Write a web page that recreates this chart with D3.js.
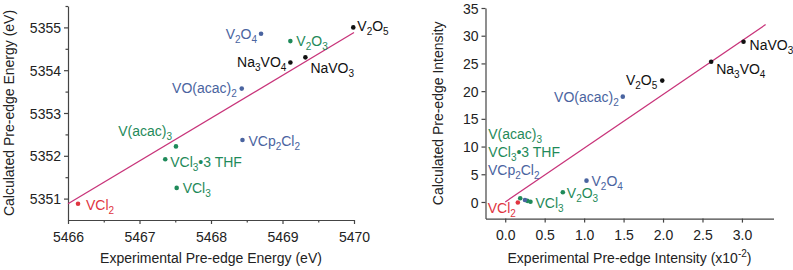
<!DOCTYPE html>
<html><head><meta charset="utf-8">
<script src="https://cdn.jsdelivr.net/npm/d3@7"></script>
<style>
html,body{margin:0;padding:0;background:#fff;}
svg{display:block;font-family:"Liberation Sans",Arial,sans-serif;}
</style></head>
<body>
<svg id="c" width="793" height="270"></svg>
<script>
// ---------- DATA ----------
// Left panel: pre-edge energy (eV)
const energyNames = ["VCl_2","V(acac)_3","VCl_3•3 THF","VCl_3","VCp_2Cl_2","VO(acac)_2","V_2O_4","V_2O_3","Na_3VO_4","NaVO_3","V_2O_5"];
const energyGroup = ["red","green","green","green","blue","blue","blue","green","black","black","black"];
const energyExp  = [5466.14,5467.51,5467.36,5467.52,5468.44,5468.43,5468.70,5469.11,5469.11,5469.32,5469.99];
const energyCalc = [5350.88,5352.22,5351.92,5351.25,5352.37,5353.57,5354.85,5354.68,5354.18,5354.30,5355.00];
const energyFit = [1.0, -115.12];          // slope, intercept
const energyFitRange = [5466, 5470];
const energyXTicks = [5466,5467,5468,5469,5470];
const energyYTicks = [5351,5352,5353,5354,5355];

// Right panel: pre-edge intensity
const intNames = ["VCl_2","V(acac)_3","VCl_3•3 THF","VCp_2Cl_2","VCl_3","V_2O_3","V_2O_4","VO(acac)_2","V_2O_5","Na_3VO_4","NaVO_3"];
const intGroup = ["red","green","green","blue","green","green","blue","blue","black","black","black"];
const intExp  = [0.16,0.19,0.28,0.25,0.32,0.73,1.03,1.49,1.99,2.61,3.02];
const intCalc = [-0.1,0.67,0.2,0.36,0.05,1.75,3.85,19.0,21.9,25.3,28.9];
const intFit = [9.7, 0];
const intFitRange = [0, 3.3];
const intXTicks = [0,0.5,1.0,1.5,2.0,2.5,3.0];
const intYTicks = [0,5,10,15,20,25,30,35];

// ---------- LAYOUT / STYLE ----------
const colors = {red:"#e0353f", green:"#1f8a5a", blue:"#4a64a0", black:"#111"};
const lineColor = "#c8347a";
const axisColor = "#444";
// label offsets [dx, dy, anchor]
const energyLabelPos = [[8,6,"start"],[-4,-10,"end"],[5,8,"start"],[6,5,"start"],[6,6,"start"],[-5,4,"end"],[-4,5,"end"],[6,5,"start"],[-4,4.5,"end"],[5,16,"start"],[4,4,"start"]];
const intLabelPos = [[-2,10.5,"end"],[-32,-59,"start"],[-39,-44,"start"],[-37,-25,"start"],[5,6,"start"],[4,6,"start"],[5,5,"start"],[-4,5,"end"],[-5,4,"end"],[5,12,"start"],[6,8,"start"]];

const svg = d3.select("#c");

function richText(sel, str){
  const parts = str.split(/(_\d+|\^-?\d+)/).filter(s=>s.length);
  let shift = 0;
  parts.forEach(p=>{
    let t, target=0, size=null;
    if(p[0]==="_"){ t=p.slice(1); target=4; size="10px"; }
    else if(p[0]==="^"){ t=p.slice(1); target=-6; size="10px"; }
    else { t=p; target=0; }
    const ts = sel.append("tspan").text(t).attr("dy", target-shift);
    if(size) ts.attr("font-size", size);
    shift = target;
  });
}

function panel(cfg){
  const g = svg.append("g");
  const x = d3.scaleLinear().domain(cfg.xDomain).range(cfg.xRange);
  const y = d3.scaleLinear().domain(cfg.yDomain).range(cfg.yRange);

  // axes
  const xAxis = d3.axisBottom(x).tickValues(cfg.xTicks).tickFormat(cfg.xFmt).tickSize(4).tickSizeOuter(0);
  const yAxis = d3.axisLeft(y).tickValues(cfg.yTicks).tickFormat(cfg.yFmt).tickSize(4).tickSizeOuter(0);
  const gx = g.append("g").attr("transform",`translate(0,${cfg.yRange[0]})`).call(xAxis);
  const gy = g.append("g").attr("transform",`translate(${cfg.xRange[0]},0)`).call(yAxis);
  if(cfg.xMinor){
    g.append("g").attr("transform",`translate(0,${cfg.yRange[0]})`)
      .call(d3.axisBottom(x).tickValues(cfg.xMinor).tickFormat("").tickSize(2.5).tickSizeOuter(0))
      .call(a=>a.select(".domain").remove());
  }
  if(cfg.yMinor){
    g.append("g").attr("transform",`translate(${cfg.xRange[0]},0)`)
      .call(d3.axisLeft(y).tickValues(cfg.yMinor).tickFormat("").tickSize(2.5).tickSizeOuter(0))
      .call(a=>a.select(".domain").remove());
  }
  g.selectAll(".domain").attr("stroke",axisColor).attr("stroke-width",1.2);
  g.selectAll(".tick line").attr("stroke",axisColor).attr("stroke-width",1.2);
  gx.selectAll(".tick text").attr("font-size","14px").attr("fill","#222").attr("dy","1.05em").attr("font-family","Liberation Sans, Arial, sans-serif");
  gy.selectAll(".tick text").attr("font-size","14px").attr("fill","#222").attr("dy","0.36em").attr("x",-7).attr("font-family","Liberation Sans, Arial, sans-serif");

  // fit line
  const fx = cfg.fitRange;
  g.append("line")
    .attr("x1",x(fx[0])).attr("y1",y(cfg.fit[0]*fx[0]+cfg.fit[1]))
    .attr("x2",x(fx[1])).attr("y2",y(cfg.fit[0]*fx[1]+cfg.fit[1]))
    .attr("stroke",lineColor).attr("stroke-width",1.3);

  // points
  const data = cfg.names.map((n,i)=>({n, g:cfg.groups[i], xv:cfg.xs[i], yv:cfg.ys[i], lp:cfg.labelPos[i]}));
  g.selectAll("circle.pt").data(data).join("circle").attr("class","pt")
    .attr("cx",d=>x(d.xv)).attr("cy",d=>y(d.yv)).attr("r",2.3)
    .attr("fill",d=>colors[d.g]);
  data.forEach(d=>{
    const t = g.append("text")
      .attr("x", x(d.xv)+d.lp[0]).attr("y", y(d.yv)+d.lp[1])
      .attr("text-anchor", d.lp[2]).attr("font-size","14px").attr("fill", colors[d.g]);
    richText(t, d.n);
  });

  // titles
  const xt = g.append("text").attr("x",(cfg.xRange[0]+cfg.xRange[1])/2).attr("y",263)
    .attr("text-anchor","middle").attr("font-size","14px").attr("fill","#222");
  richText(xt, cfg.xTitle);
  g.append("text").attr("transform",`translate(${cfg.yTitleX},${(cfg.yRange[0]+cfg.yRange[1])/2}) rotate(-90)`)
    .attr("text-anchor","middle").attr("font-size","14px").attr("fill","#222").text(cfg.yTitle);
}

panel({
  names:energyNames, groups:energyGroup, xs:energyExp, ys:energyCalc, labelPos:energyLabelPos,
  xDomain:[5466,5470], xRange:[68,354], yDomain:[5350.5,5355.5], yRange:[220,6],
  xTicks:energyXTicks, yTicks:energyYTicks, xFmt:d3.format("d"), yFmt:d3.format("d"),
  xMinor:[5466.5,5467.5,5468.5,5469.5], yMinor:[5351.5,5352.5,5353.5,5354.5,5355.5],
  fit:energyFit, fitRange:energyFitRange,
  xTitle:"Experimental Pre-edge Energy (eV)", yTitle:"Calculated Pre-edge Energy (eV)", yTitleX:14
});
panel({
  names:intNames, groups:intGroup, xs:intExp, ys:intCalc, labelPos:intLabelPos,
  xDomain:[-0.25,3.4], xRange:[485.5,773.5], yDomain:[-3,35], yRange:[218.6,8],
  xTicks:intXTicks, yTicks:intYTicks, xFmt:d3.format(".1f"), yFmt:d3.format("d"),
  fit:intFit, fitRange:intFitRange,
  xTitle:"Experimental Pre-edge Intensity (x10^-2)", yTitle:"Calculated Pre-edge Intensity", yTitleX:443
});
</script>
</body></html>
